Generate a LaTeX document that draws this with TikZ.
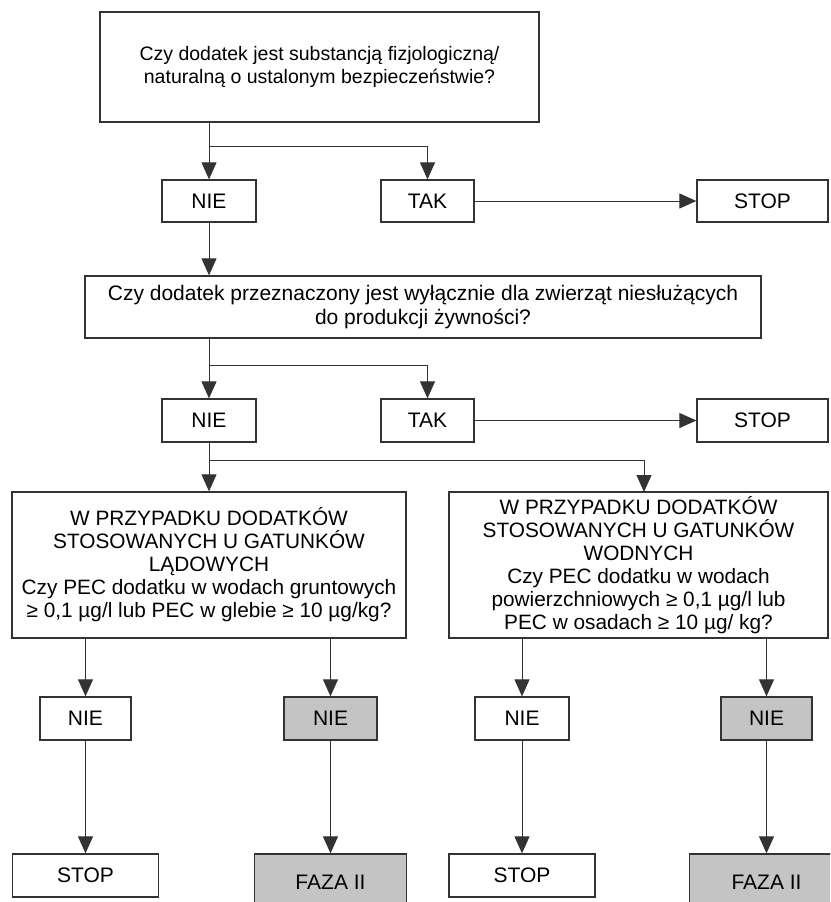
\documentclass[tikz,border=0pt]{standalone}
\usepackage{fontspec}
\setmainfont{Liberation Sans}
\usetikzlibrary{arrows.meta,calc}
\definecolor{ln}{HTML}{333333}
\definecolor{fillg}{HTML}{C4C4C4}
\begin{document}
\begin{tikzpicture}[x=1pt,y=-1pt,
  box/.style={draw=ln,line width=1.3pt,fill=white,inner sep=0pt,align=center,
    font=\fontsize{21}{23}\selectfont},
  greybox/.style={box,fill=fillg},
  arr/.style={draw=ln,line width=1pt,-{Triangle[length=17pt,width=15pt]}},
  plain/.style={draw=ln,line width=1pt}]
\useasboundingbox (0,0) rectangle (830,902);
\clip (0,0) rectangle (830,902);
% row 1
\node[box,minimum width=439pt,minimum height=110pt,font=\fontsize{19.5}{23}\selectfont] (q1) at (319.5,67)
  {Czy dodatek jest substancją fizjologiczną/\\naturalną o ustalonym bezpieczeństwie?};
\node[box,minimum width=94pt,minimum height=42pt] (nie1) at (209,201) {NIE};
\node[box,minimum width=93pt,minimum height=42pt] (tak1) at (427.5,201) {TAK};
\node[box,minimum width=131pt,minimum height=42pt] (stop1) at (762.5,201) {STOP};
\coordinate (j1) at (209,146);
\draw[arr] (q1.south -| nie1.north) -- (nie1.north);
\draw[arr] (j1) -| (tak1.north);
\draw[arr] (tak1.east) -- (stop1.west);
% row 2
\node[box,minimum width=676pt,minimum height=62pt,font=\fontsize{21}{24}\selectfont] (q2) at (423,307)
  {Czy dodatek przeznaczony jest wyłącznie dla zwierząt niesłużących\\do produkcji żywności?};
\draw[arr] (nie1.south) -- (nie1.south |- q2.north);
\node[box,minimum width=94pt,minimum height=43pt] (nie2) at (209,420.5) {NIE};
\node[box,minimum width=93pt,minimum height=43pt] (tak2) at (427.5,420.5) {TAK};
\node[box,minimum width=131pt,minimum height=43pt] (stop2) at (762.5,420.5) {STOP};
\coordinate (j2) at (209,365);
\draw[arr] (q2.south -| nie2.north) -- (nie2.north);
\draw[arr] (j2) -| (tak2.north);
\draw[arr] (tak2.east) -- (stop2.west);
% row 3
\node[box,minimum width=394pt,minimum height=146pt,font=\fontsize{20.8}{23}\selectfont] (q3l) at (209,565)
  {W PRZYPADKU DODATKÓW\\STOSOWANYCH U GATUNKÓW\\LĄDOWYCH\\Czy PEC dodatku w wodach gruntowych\\≥ 0,1 µg/l lub PEC w glebie ≥ 10 µg/kg?};
\node[box,minimum width=379pt,minimum height=146pt,font=\fontsize{20.8}{23}\selectfont] (q3r) at (638.5,565)
  {W PRZYPADKU DODATKÓW\\STOSOWANYCH U GATUNKÓW\\WODNYCH\\Czy PEC dodatku w wodach\\powierzchniowych ≥ 0,1 µg/l lub\\PEC w osadach ≥ 10 µg/ kg?};
\coordinate (j3) at (209,460);
\coordinate (j3r) at (644,492);
\draw[arr] (nie2.south) -- (nie2.south |- q3l.north);
\draw[arr] (j3) -| (j3r);
% row 4
\node[box,minimum width=91pt,minimum height=43pt] (n4a) at (85.5,718.5) {NIE};
\node[greybox,minimum width=93pt,minimum height=43pt] (n4b) at (330.5,718.5) {NIE};
\node[box,minimum width=94pt,minimum height=43pt] (n4c) at (522,718.5) {NIE};
\node[greybox,minimum width=91pt,minimum height=43pt] (n4d) at (766.5,718.5) {NIE};
\draw[arr] (q3l.south -| n4a.north) -- (n4a.north);
\draw[arr] (q3l.south -| n4b.north) -- (n4b.north);
\draw[arr] (q3r.south -| n4c.north) -- (n4c.north);
\draw[arr] (q3r.south -| n4d.north) -- (n4d.north);
% row 5
\node[box,minimum width=146pt,minimum height=43pt] (s5a) at (85.5,875.5) {STOP};
\node[greybox,minimum width=152pt,minimum height=56pt] (s5b) at (330.5,882) {FAZA II};
\node[box,minimum width=146pt,minimum height=43pt] (s5c) at (522,875.5) {STOP};
\node[greybox,minimum width=154pt,minimum height=56pt] (s5d) at (766.5,882) {FAZA II};
\draw[arr] (n4a.south) -- (s5a.north);
\draw[arr] (n4b.south) -- (s5b.north);
\draw[arr] (n4c.south) -- (s5c.north);
\draw[arr] (n4d.south) -- (s5d.north);
\end{tikzpicture}
\end{document}
